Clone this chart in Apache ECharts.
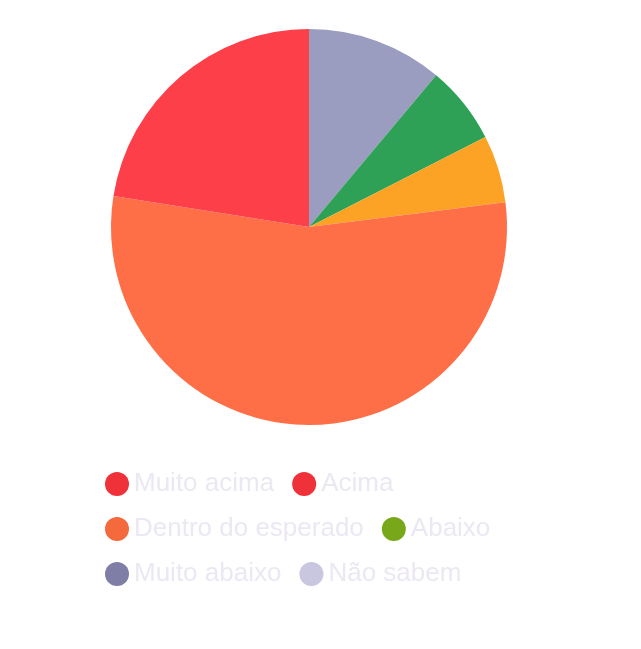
<!DOCTYPE html>
<html><head><meta charset="utf-8">
<script src="https://cdn.jsdelivr.net/npm/echarts@6/dist/echarts.min.js"></script>
<style>html,body{margin:0;background:#fff}#c{width:641px;height:649px}</style>
</head><body><div id="c"></div>
<script>
const categories = ['Muito abaixo','Abaixo','Acima','Dentro do esperado','Muito acima','Não sabem'];
const values = [11.1, 6.4, 5.5, 54.5, 22.5, 0];
const sliceColors = ['#9a9cc0','#2fa157','#fca326','#fe6f48','#fd3f4a','#c8c6e0'];
const legendRows = [['Muito acima','Acima'],['Dentro do esperado','Abaixo'],['Muito abaixo','Não sabem']];
const legendColors = {'Muito acima':'#ef3239','Acima':'#ef3239','Dentro do esperado':'#f56a3c','Abaixo':'#78a81a','Muito abaixo':'#7e7ea6','Não sabem':'#c9c6e0'};
const chart = echarts.init(document.getElementById('c'));
chart.setOption({
  animation:false,
  legend: legendRows.map((row,i)=>({
    left:100, top:466+i*45, itemGap:18, icon:'circle', itemWidth:24, itemHeight:24,
    textStyle:{fontSize:26, color:'#ebe8f3', fontFamily:'Helvetica, Arial, sans-serif'},
    data: row.map(n=>({name:n, itemStyle:{color:legendColors[n]}}))
  })),
  series:[{type:'pie', center:[309,227], radius:198, startAngle:90, label:{show:false},
    labelLine:{show:false}, itemStyle:{borderWidth:0},
    data: categories.map((n,i)=>({name:n, value:values[i], itemStyle:{color:sliceColors[i]}}))}]
});
</script></body></html>
